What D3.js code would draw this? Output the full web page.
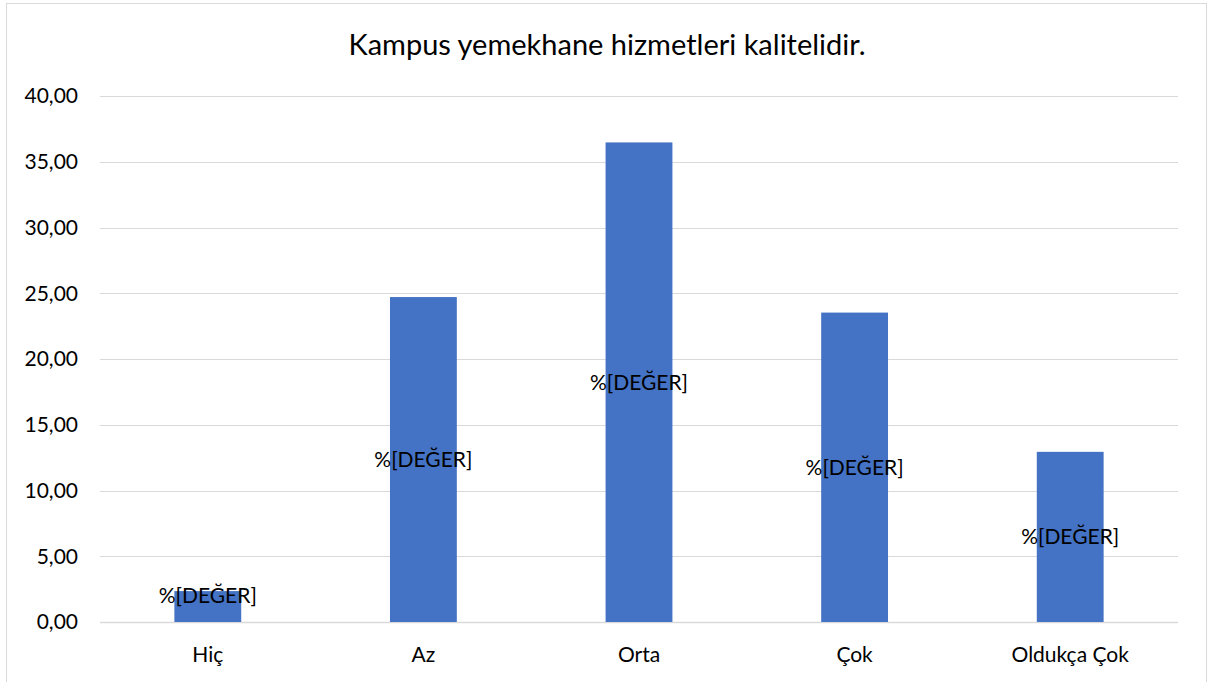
<!DOCTYPE html>
<html>
<head>
<meta charset="utf-8">
<script src="https://cdn.jsdelivr.net/npm/d3@7"></script>
<style>
  body { margin: 0; background: #fff; }
  text { font-family: Lato, "Open Sans", sans-serif; fill: #000; }
</style>
</head>
<body>
<div class="canva"></div>
<script>
// values
const categories = ["Hiç", "Az", "Orta", "Çok", "Oldukça Çok"];
const values = [2.35, 24.71, 36.47, 23.53, 12.94];
const yTicks = [0, 5, 10, 15, 20, 25, 30, 35, 40];
const chartTitle = "Kampus yemekhane hizmetleri kalitelidir.";
const barLabel = "%[DEĞER]";

const W = 1213, H = 682;
const plotLeft = 100, plotRight = 1178, plotTop = 96, plotBottom = 622;

const svg = d3.select(".canva").append("svg")
  .attr("width", W)
  .attr("height", H);

// chart frame
svg.append("rect")
  .attr("x", 6.5).attr("y", 3.5)
  .attr("width", 1200).attr("height", 700)
  .attr("fill", "#fff")
  .attr("stroke", "#d9d9d9");

const x = d3.scaleBand().domain(categories).range([plotLeft, plotRight]).paddingInner(0.69).paddingOuter(0.345);
const y = d3.scaleLinear().domain([0, 40]).range([plotBottom, plotTop]);

const fmt = d => d3.format(".2f")(d).replace(".", ",");

// gridlines
svg.append("g").selectAll("line")
  .data(yTicks).enter().append("line")
  .attr("x1", plotLeft).attr("x2", plotRight)
  .attr("y1", d => Math.round(y(d)) + 0.5)
  .attr("y2", d => Math.round(y(d)) + 0.5)
  .attr("stroke", "#d9d9d9")
  .attr("stroke-width", d => d === 0 ? 1.5 : 1);

// y tick labels
svg.append("g").selectAll("text")
  .data(yTicks).enter().append("text")
  .attr("x", 78)
  .attr("y", d => y(d))
  .attr("dy", "0.35em")
  .attr("text-anchor", "end")
  .attr("font-size", 21)
  .text(fmt);

// bars
svg.append("g").selectAll("rect")
  .data(values).enter().append("rect")
  .attr("x", (d, i) => x(categories[i]))
  .attr("width", x.bandwidth())
  .attr("y", d => y(d))
  .attr("height", d => y(0) - y(d))
  .attr("fill", "#4472c4");

// data labels
svg.append("g").selectAll("text")
  .data(values).enter().append("text")
  .attr("x", (d, i) => x(categories[i]) + x.bandwidth() / 2)
  .attr("y", d => Math.min((y(d) + y(0)) / 2, y(0) - 26))
  .attr("dy", "0.35em")
  .attr("text-anchor", "middle")
  .attr("font-size", 21)
  .text(barLabel);

// category labels
svg.append("g").selectAll("text")
  .data(categories).enter().append("text")
  .attr("x", d => x(d) + x.bandwidth() / 2)
  .attr("y", 655)
  .attr("dy", "0.35em")
  .attr("text-anchor", "middle")
  .attr("font-size", 21)
  .text(d => d);

// title
svg.append("text")
  .attr("x", 607)
  .attr("y", 45)
  .attr("dy", "0.35em")
  .attr("text-anchor", "middle")
  .attr("font-size", 29)
  .text(chartTitle);
</script>
</body>
</html>
